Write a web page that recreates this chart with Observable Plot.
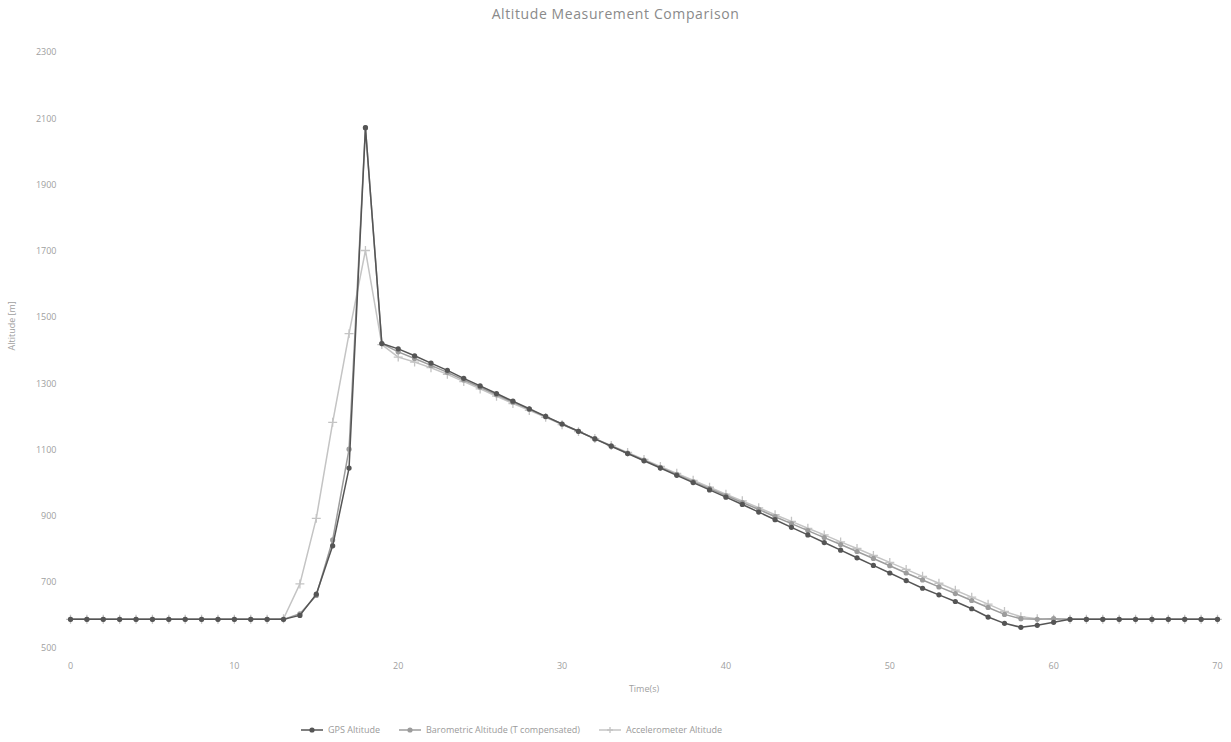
<!DOCTYPE html>
<html>
<head>
<meta charset="utf-8">
<script src="https://cdn.jsdelivr.net/npm/d3@7"></script>
<script src="https://cdn.jsdelivr.net/npm/@observablehq/plot@0.6"></script>
<style>
  html, body { margin: 0; padding: 0; background: #fff; }
  body { width: 1231px; height: 742px; position: relative; overflow: hidden; font-family: "Open Sans", sans-serif; }
  #title { position: absolute; top: 4px; left: 0; width: 1231px; text-align: center; font-size: 14px; color: #8a8a8a; letter-spacing: 0.6px; }
  #chart { position: absolute; top: 28px; left: 0; }
  #legend { position: absolute; top: 723px; left: 300px; display: flex; align-items: center; font-size: 9px; color: #9a9a9a; }
  #legend .item { display: flex; align-items: center; margin-right: 18px; }
  #legend svg { margin-right: 4px; }
</style>
</head>
<body>
<div id="title">Altitude Measurement Comparison</div>
<div id="chart"></div>
<div id="legend"></div>
<script>
// ---- data ----
const time = [0,1,2,3,4,5,6,7,8,9,10,11,12,13,14,15,16,17,18,19,20,21,22,23,24,25,26,27,28,29,30,31,32,33,34,35,36,37,38,39,40,41,42,43,44,45,46,47,48,49,50,51,52,53,54,55,56,57,58,59,60,61,62,63,64,65,66,67,68,69,70];
const gpsAltitude = [588,588,588,588,588,588,588,588,588,588,588,588,588,588,600,664,810,1045,2073,1421,1405,1384,1362,1340,1316,1293,1270,1247,1224,1201,1178,1156,1133,1111,1089,1067,1045,1023,1001,979,957,935,912,889,866,843,820,797,774,751,728,705,682,662,642,620,595,576,564,570,579,588,588,588,588,588,588,588,588,588,588];
const baroAltitude = [588,588,588,588,588,588,588,588,588,588,588,588,588,588,605,660,828,1102,2073,1421,1396,1376,1355,1334,1311,1289,1266,1244,1222,1200,1178,1156,1134,1112,1090,1069,1047,1026,1004,983,962,941,920,898,877,856,835,814,793,772,750,728,707,686,666,645,624,603,590,588,590,588,588,588,588,588,588,588,588,588,588];
const accelAltitude = [588,588,588,588,588,588,588,588,588,588,588,588,588,590,695,893,1183,1451,1702,1418,1380,1365,1348,1328,1306,1284,1262,1240,1219,1198,1176,1155,1134,1113,1092,1071,1050,1029,1008,987,966,946,925,904,884,863,843,822,802,781,760,739,718,697,676,655,634,612,596,590,588,588,588,588,588,588,588,588,588,588,588];
const seriesNames = ["GPS Altitude", "Barometric Altitude (T compensated)", "Accelerometer Altitude"];
const xTicks = [0,10,20,30,40,50,60,70];
const yTicks = [500,700,900,1100,1300,1500,1700,1900,2100,2300];

// ---- styles ----
const colors = ["#555555", "#9c9c9c", "#c4c4c4"];
const valuesBySeries = [gpsAltitude, baroAltitude, accelAltitude];

const rows = [];
seriesNames.forEach((s, i) => {
  time.forEach((t, j) => rows.push({series: s, t, v: valuesBySeries[i][j]}));
});
const gps = rows.filter(d => d.series === seriesNames[0]);
const baro = rows.filter(d => d.series === seriesNames[1]);
const acc = rows.filter(d => d.series === seriesNames[2]);

const chart = Plot.plot({
  width: 1231,
  height: 680,
  marginTop: 24,
  marginBottom: 60,
  marginLeft: 70,
  marginRight: 14,
  style: { fontFamily: "Open Sans, sans-serif", fontSize: "9px", color: "#a0a0a0", background: "#fff" },
  x: { domain: [0, 70] },
  y: { domain: [500, 2300] },
  marks: [
    Plot.axisX({ ticks: xTicks, tickFormat: d => String(d), tickSize: 0, tickPadding: 14, label: null, fill: "#a0a0a0" }),
    Plot.axisY({ ticks: yTicks, tickFormat: d => String(d), tickSize: 0, tickPadding: 14, label: null, fill: "#a0a0a0" }),
    Plot.text(["Time(s)"], { frameAnchor: "bottom", dy: 43, fill: "#a0a0a0", fontSize: 9 }),
    Plot.text(["Altitude [m]"], { frameAnchor: "left", dx: -58, rotate: -90, fill: "#a0a0a0", fontSize: 9 }),
    Plot.line(acc, { x: "t", y: "v", stroke: colors[2], strokeWidth: 1.5 }),
    Plot.dot(acc, { x: "t", y: "v", symbol: "plus", stroke: colors[2], r: 3, strokeWidth: 1.3 }),
    Plot.line(baro, { x: "t", y: "v", stroke: colors[1], strokeWidth: 1.5 }),
    Plot.dot(baro, { x: "t", y: "v", fill: colors[1], r: 2.6 }),
    Plot.line(gps, { x: "t", y: "v", stroke: colors[0], strokeWidth: 1.5 }),
    Plot.dot(gps, { x: "t", y: "v", fill: colors[0], r: 2.6 })
  ]
});
document.getElementById("chart").appendChild(chart);

// ---- legend ----
const legend = document.getElementById("legend");
const markerKinds = ["circle", "circle", "plus"];
seriesNames.forEach((s, i) => {
  const item = document.createElement("div");
  item.className = "item";
  const ns = "http://www.w3.org/2000/svg";
  const svg = document.createElementNS(ns, "svg");
  svg.setAttribute("width", 24); svg.setAttribute("height", 10);
  const ln = document.createElementNS(ns, "line");
  ln.setAttribute("x1", 1); ln.setAttribute("x2", 23); ln.setAttribute("y1", 5); ln.setAttribute("y2", 5);
  ln.setAttribute("stroke", colors[i]); ln.setAttribute("stroke-width", 1.5);
  svg.appendChild(ln);
  if (markerKinds[i] === "circle") {
    const c = document.createElementNS(ns, "circle");
    c.setAttribute("cx", 12); c.setAttribute("cy", 5); c.setAttribute("r", 2.6); c.setAttribute("fill", colors[i]);
    svg.appendChild(c);
  } else {
    const p = document.createElementNS(ns, "path");
    p.setAttribute("d", "M9,5H15M12,2V8"); p.setAttribute("stroke", colors[i]); p.setAttribute("stroke-width", 1.3);
    svg.appendChild(p);
  }
  item.appendChild(svg);
  const span = document.createElement("span");
  span.textContent = s;
  item.appendChild(span);
  legend.appendChild(item);
});
</script>
</body>
</html>
